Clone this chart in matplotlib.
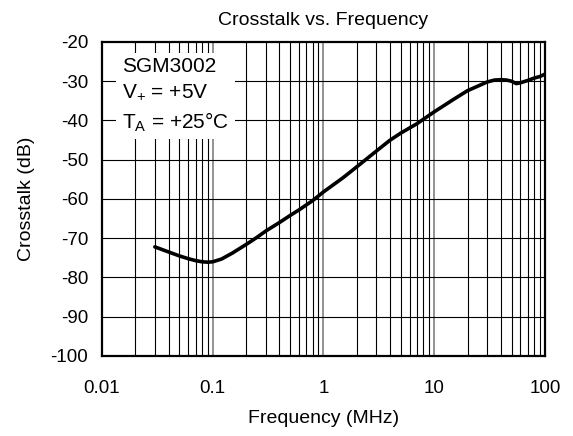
import matplotlib
matplotlib.use("Agg")
import matplotlib.pyplot as plt
import numpy as np

plt.rcParams['font.family'] = ['Liberation Sans', 'DejaVu Sans']
plt.rcParams['mathtext.fontset'] = 'custom'
plt.rcParams['mathtext.rm'] = 'Liberation Sans'
plt.rcParams['mathtext.it'] = 'Liberation Sans'
plt.rcParams['axes.unicode_minus'] = False

freq_mhz = [0.03, 0.04, 0.05, 0.06, 0.07, 0.08, 0.09, 0.1, 0.12, 0.15, 0.2,
            0.25, 0.3, 0.4, 0.5, 0.6, 0.8, 1, 1.5, 2, 3, 4, 5, 7, 10, 15,
            20, 25, 30, 35, 40, 45, 50, 55, 60, 70, 80, 90, 100]
crosstalk_db = [-72.2, -73.5, -74.5, -75.2, -75.7, -76.0, -76.1, -76.0, -75.3,
                -73.8, -71.6, -69.8, -68.2, -66.0, -64.2, -62.8, -60.4, -58.2,
                -54.6, -51.8, -47.8, -45.0, -43.2, -40.8, -37.8, -34.6, -32.4,
                -31.2, -30.2, -29.7, -29.6, -29.7, -30.0, -30.6, -30.4, -29.8,
                -29.2, -28.8, -28.2]
x_ticks = [0.01, 0.1, 1, 10, 100]
x_tick_labels = ["0.01", "0.1", "1", "10", "100"]
y_ticks = list(range(-100, -10, 10))

fig = plt.figure(figsize=(5.73, 4.36), dpi=100)
ax = fig.add_axes([0.178, 0.1835, 0.773, 0.7202])

ax.set_xscale('log')
ax.set_xlim(0.01, 100)
ax.set_ylim(-100, -20)

# grid
for dec in [0.01, 0.1, 1, 10]:
    for m in range(2, 10):
        ax.axvline(dec * m, color='black', lw=0.8, zorder=1)
for v in [0.1, 1, 10]:
    ax.axvline(v, color='#808080', lw=1.2, zorder=1)
for yv in y_ticks[1:-1]:
    ax.axhline(yv, color='black', lw=0.8, zorder=1)

ax.plot(freq_mhz, crosstalk_db, color='black', lw=2.6, zorder=3,
        solid_capstyle='round')

ax.set_xticks(x_ticks)
ax.set_xticklabels(x_tick_labels)
ax.xaxis.set_minor_locator(matplotlib.ticker.NullLocator())
ax.set_yticks(y_ticks)
ax.tick_params(axis='both', length=0, labelsize=13.5)
ax.tick_params(axis='x', pad=17)
ax.tick_params(axis='y', pad=10)
for s in ax.spines.values():
    s.set_linewidth(1.6)
    s.set_color('black')
    s.set_zorder(5)

ax.set_xlabel("Frequency (MHz)", fontsize=14, labelpad=10)
ax.set_ylabel("Crosstalk (dB)", fontsize=14, labelpad=11)
ax.set_title("Crosstalk vs. Frequency", fontsize=14, pad=12)

ax.text(0.045, 0.952,
        "SGM3002\nV$_{+}$ = +5V\nT$_{A}$ = +25°C",
        transform=ax.transAxes, fontsize=15, va='top', ha='left',
        linespacing=1.46, zorder=4,
        bbox=dict(facecolor='white', edgecolor='none', pad=4))

fig.savefig("out.png", dpi=100)
